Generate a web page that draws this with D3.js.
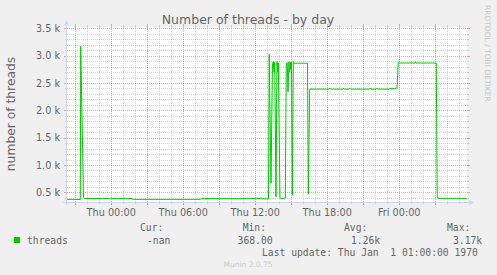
<!DOCTYPE html>
<html><head><meta charset="utf-8">
<script src="https://cdn.jsdelivr.net/npm/d3@7"></script>
<style>
body{margin:0;background:#f0f0f0;}
svg{display:block;}
text{font-family:"DejaVu Sans",sans-serif;fill:#666666;}
.mono{font-family:"DejaVu Sans Mono",monospace;white-space:pre;}
</style>
</head><body>
<svg id="c" width="497" height="275"></svg>
<script>
// hours relative to Thu 00:00
const hours = [-3.642,-2.533,-2.5,-2.267,-2.183,-0.725,-0.642,-0.558,-0.1,-0.017,0.067,0.525,0.608,0.692,1.358,1.442,1.525,1.775,1.858,
  7.442,7.525,7.942,8.025,8.108,8.608,8.692,10.942,11.025,11.108,11.442,11.775,11.858,12.117,12.275,12.358,12.442,12.608,12.692,
  13.15,13.208,13.358,13.483,13.55,13.608,13.667,13.775,13.858,13.917,13.967,14.108,14.192,14.55,14.633,14.717,14.775,14.858,14.917,14.967,15.025,15.067,15.133,15.217,15.275,
  16.4,16.467,16.583,18.192,18.25,18.317,19.358,19.417,19.483,19.858,19.917,19.983,21.567,21.625,21.692,22.133,22.192,22.25,23.233,23.292,23.358,23.525,23.608,23.775,23.858,
  23.967,24.067,25.358,25.4,25.442,27.133,27.208,27.275,29.667];
const threads = [372,370,3170,410,386,388,395,388,388,395,388,388,395,388,388,395,388,386,372,
  372,384,384,390,384,390,384,384,392,384,392,392,384,392,392,384,392,392,380,
  380,3024,665,2860,2890,2700,2880,420,2890,2700,2870,400,390,395,2860,2870,2340,2890,2700,2880,2750,2880,450,2890,2862,
  2862,465,2388,2388,2405,2388,2388,2405,2388,2388,2405,2388,2388,2405,2388,2388,2405,2388,2388,2405,2390,2405,2392,2405,2410,
  2885,2865,2865,2885,2865,2865,420,390,390];
const yTickValues = [500,1000,1500,2000,2500,3000,3500];
const yTickLabels = ["0.5 k","1.0 k","1.5 k","2.0 k","2.5 k","3.0 k","3.5 k"];
const xTickHours = [0,6,12,18,24];
const xTickLabels = ["Thu 00:00","Thu 06:00","Thu 12:00","Thu 18:00","Fri 00:00"];
const legendHeaders = ["Cur:","Min:","Avg:","Max:"];
const legendValues = ["-nan","368.00","1.26k","3.17k"];
const seriesName = "threads";

const H = 3600e3;
const base = Date.UTC(2024,0,4); // a Thursday
const svg = d3.select("#c");
const L=67,R=467,T=27,B=202;
const x = d3.scaleUtc().domain([new Date(base-3.642*H), new Date(base+29.692*H)]).range([L,R]);
const y = d3.scaleLinear().domain([323,3524]).range([B,T]);
const px = v => Math.round(v)+0.5;

svg.append("rect").attr("x",L).attr("y",T).attr("width",R-L).attr("height",B-T).attr("fill","#fff");

const gridMinor = "rgba(143,143,143,0.38)";
const gridMajor = "rgba(222,80,80,0.5)";
const g = svg.append("g");
// horizontal grid
d3.range(400,3501,100).forEach(v=>{
  const major = v%500===0;
  const yy = px(y(v));
  g.append("line").attr("x1",L).attr("x2",R).attr("y1",yy).attr("y2",yy)
    .attr("stroke",major?gridMajor:gridMinor).attr("stroke-dasharray","1,1");
  g.append("line").attr("x1",L-(major?3:2)).attr("x2",L).attr("y1",yy).attr("y2",yy).attr("stroke",major?gridMajor:gridMinor);
  g.append("line").attr("x1",R).attr("x2",R+(major?3:2)).attr("y1",yy).attr("y2",yy).attr("stroke",major?gridMajor:gridMinor);
});
// vertical grid
x.ticks(d3.utcHour.every(1)).forEach(t=>{
  const major = t.getUTCHours()%3===0;
  const xx = px(x(t));
  const c = major?gridMajor:gridMinor;
  g.append("line").attr("x1",xx).attr("x2",xx).attr("y1",T).attr("y2",B).attr("stroke",c).attr("stroke-dasharray","1,1");
  g.append("line").attr("x1",xx).attr("x2",xx).attr("y1",B).attr("y2",B+(major?3:2)).attr("stroke",c);
  g.append("line").attr("x1",xx).attr("x2",xx).attr("y1",T-(major?3:2)).attr("y2",T).attr("stroke",c);
});

// axes lines + arrows
const axc="#CFD6F8";
svg.append("line").attr("x1",L-0.5).attr("x2",L-0.5).attr("y1",B+3).attr("y2",T-3).attr("stroke",axc);
svg.append("line").attr("x1",L-4).attr("x2",R+3).attr("y1",B+0.5).attr("y2",B+0.5).attr("stroke",axc);
svg.append("path").attr("d",`M${L-3},${T-2}L${L+2},${T-2}L${L-0.5},${T-7}Z`).attr("fill",axc);
svg.append("path").attr("d",`M${R+2},${B-2}L${R+2},${B+3}L${R+7},${B+0.5}Z`).attr("fill",axc);

// data line
const data = hours.map((h,i)=>({t:new Date(base+h*H), v:threads[i]}));
svg.append("path").datum(data)
  .attr("d", d3.line().x(d=>x(d.t)).y(d=>y(d.v)))
  .attr("fill","none").attr("stroke","#00cc00").attr("stroke-width",1);

// y axis labels
const ya = svg.append("g").attr("transform",`translate(${L-7},0)`)
  .call(d3.axisLeft(y).tickValues(yTickValues).tickFormat((d,i)=>yTickLabels[i]).tickSize(0).tickPadding(0));
ya.select(".domain").remove();
ya.selectAll("text").attr("fill","#666").style("font-family","DejaVu Sans").style("font-size","9.7px").attr("dy","0.34em");

// x axis labels
const xa = svg.append("g").attr("transform",`translate(0,${B})`)
  .call(d3.axisBottom(x).tickValues(xTickHours.map(h=>new Date(base+h*H))).tickFormat((d,i)=>xTickLabels[i]).tickSize(0).tickPadding(0));
xa.select(".domain").remove();
xa.selectAll("text").attr("fill","#666").style("font-family","DejaVu Sans").style("font-size","9.7px").attr("y",14).attr("dy",null);

// title
svg.append("text").attr("x",248).attr("y",24).attr("text-anchor","middle").style("font-size","12.5px").text("Number of threads - by day");
// y label
svg.append("text").attr("transform","translate(14.5,114) rotate(-90)").attr("text-anchor","middle").style("font-size","12.3px").text("number of threads");
// watermark
svg.append("text").attr("transform","translate(485,5) rotate(90)").attr("text-anchor","start").style("font-size","7.5px").style("fill","#c8c8c8").text("RRDTOOL / TOBI OETIKER");

// legend
svg.append("rect").attr("x",14).attr("y",237).attr("width",6).attr("height",6).attr("fill","#00cc00");
const lf = "9.7px";
svg.append("text").attr("class","mono").attr("x",27).attr("y",243.5).style("font-size",lf).text(seriesName);
const hx = [140,242.7,344,447];
const vx = [147,237.6,351,453];
legendHeaders.forEach((h,i)=>svg.append("text").attr("class","mono").attr("x",hx[i]).attr("y",231).style("font-size",lf).text(h));
legendValues.forEach((h,i)=>svg.append("text").attr("class","mono").attr("x",vx[i]).attr("y",243.5).style("font-size",lf).text(h));
svg.append("text").attr("class","mono").attr("x",262).attr("y",255.5).style("font-size",lf).text("Last update: Thu Jan  1 01:00:00 1970");
svg.append("text").attr("x",248).attr("y",266.5).attr("text-anchor","middle").style("font-size","7.5px").style("fill","#cccccc").text("Munin 2.0.75");
</script>
</body></html>
